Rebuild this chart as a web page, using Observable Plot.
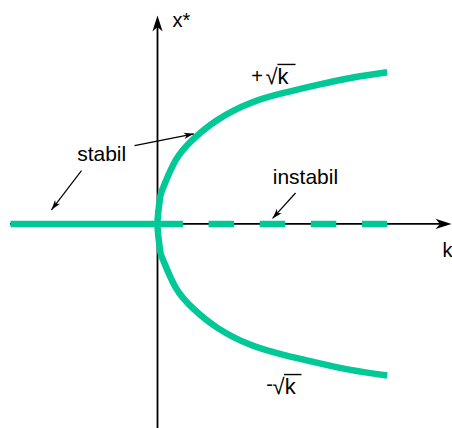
<!DOCTYPE html>
<html>
<head>
<meta charset="utf-8">
<script src="https://cdn.jsdelivr.net/npm/d3@7"></script>
<script src="https://cdn.jsdelivr.net/npm/@observablehq/plot@0.6"></script>
<style>
  body { margin: 0; background: #fff; }
</style>
</head>
<body>
<div id="chart"></div>
<script>
// Pitchfork bifurcation: equilibria x* against the parameter k
const kRange = [-0.64, 1.28];
const xRange = [-1.35, 1.375];

// branch x* = ±√k, upper half (the lower half is its mirror image)
const branchK = [0, 0.006, 0.013, 0.026, 0.08, 0.157, 0.261, 0.405, 0.549, 0.697, 0.84, 1.0];
const branchX = [0, 0.112, 0.19, 0.244, 0.422, 0.561, 0.686, 0.798, 0.864, 0.917, 0.963, 1.0];

// trivial equilibrium x* = 0: stable for k < 0, unstable for k > 0
const stableK = [-0.64, 0];
const unstableK = [0, 1.0];

// pointer arrows (tail -> head)
const pointerFromK = [-0.100, -0.331, 0.601];
const pointerFromX = [0.517, 0.352, 0.204];
const pointerToK = [0.158, -0.4615, 0.501];
const pointerToX = [0.594, 0.093, 0.036];

// plain text labels
const labelText = ["stabil", "instabil"];
const labelK = [-0.243, 0.644];
const labelX = [0.458, 0.309];

// axis titles
const axisText = ["x*", "k"];
const axisK = [0.065, 1.241];
const axisX = [1.34, -0.176];

// branch labels ±√k
const rootSign = ["+", "-"];
const rootSignK = [0.434, 0.488];
const rootSignX = [0.9725, -1.06];
const rootK = [0.470, 0.501];
const rootX = [0.9705, -1.075];
const barK1 = [0.522, 0.5507];
const barK2 = [0.601, 0.6269];
const barX = [1.052, -0.994];

const green = "#00c896";

const xOpts = {domain: kRange, range: [10, 451]};
const yOpts = {domain: xRange, range: [428, 15]};
const xs = Plot.scale({x: xOpts});
const ys = Plot.scale({y: yOpts});

// notched arrowhead, tip at the origin, pointing up
const arrowHead = {
  draw(context, size) {
    const L = Math.sqrt(size / Math.PI);
    context.moveTo(0, 0);
    context.lineTo(0.32 * L, L);
    context.lineTo(0, 0.72 * L);
    context.lineTo(-0.32 * L, L);
    context.closePath();
  }
};

// lower half then upper half, ordered by x*
const branch = [];
for (let i = branchK.length - 1; i > 0; --i) branch.push({k: branchK[i], x: -branchX[i]});
for (let i = 0; i < branchK.length; ++i) branch.push({k: branchK[i], x: branchX[i]});

const pointers = pointerFromK.map((k, i) => {
  const dx = xs.apply(pointerToK[i]) - xs.apply(k);
  const dy = ys.apply(pointerToX[i]) - ys.apply(pointerFromX[i]);
  return {
    k1: k, x1: pointerFromX[i], k2: pointerToK[i], x2: pointerToX[i],
    angle: Math.atan2(dx, -dy) * 180 / Math.PI
  };
});

const axisTips = [
  {k: 0, x: xRange[1], angle: 0},
  {k: kRange[1], x: 0, angle: 90}
];

const labels = labelText.map((t, i) => ({t, k: labelK[i], x: labelX[i]}));
const titles = axisText.map((t, i) => ({t, k: axisK[i], x: axisX[i]}));
const roots = rootSign.map((s, i) => ({
  s, sk: rootSignK[i], sx: rootSignX[i],
  rk: rootK[i], rx: rootX[i],
  b1: barK1[i], b2: barK2[i], bx: barX[i]
}));

const font = "'Liberation Sans', Arial, sans-serif";

const chart = Plot.plot({
  width: 452,
  height: 428,
  x: {...xOpts, axis: null},
  y: {...yOpts, axis: null},
  style: {background: "#fff", fontFamily: font},
  marks: [
    // axes
    Plot.ruleY([0], {x1: kRange[0], x2: kRange[1] - 0.03, stroke: "#000", strokeWidth: 1.8}),
    Plot.ruleX([0], {y1: xRange[0], y2: xRange[1] - 0.05, stroke: "#000", strokeWidth: 1.8}),
    Plot.dot(axisTips, {x: "k", y: "x", rotate: "angle", symbol: arrowHead, r: 16, fill: "#000", stroke: "none"}),

    // equilibria
    Plot.line(stableK, {x: d => d, y: () => 0, stroke: green, strokeWidth: 6.5, strokeLinecap: "butt"}),
    Plot.line(unstableK, {x: d => d, y: () => 0, stroke: green, strokeWidth: 6.5, strokeLinecap: "butt", strokeDasharray: "25.5 25.6"}),
    Plot.line(branch, {x: "k", y: "x", curve: "natural", stroke: green, strokeWidth: 6.5, strokeLinecap: "butt"}),

    // pointers
    Plot.link(pointers, {x1: "k1", y1: "x1", x2: "k2", y2: "x2", stroke: "#000", strokeWidth: 1.2}),
    Plot.dot(pointers, {x: "k2", y: "x2", rotate: "angle", symbol: arrowHead, r: 10, fill: "#000", stroke: "none"}),

    // labels
    Plot.text(labels, {x: "k", y: "x", text: "t", fontSize: 21, fill: "#000", textAnchor: "middle"}),
    Plot.text(titles, {x: "k", y: "x", text: "t", fontSize: 20, fill: "#000", textAnchor: "start"}),
    Plot.text(roots, {x: "sk", y: "sx", text: "s", fontSize: 20, fill: "#000", textAnchor: "middle"}),
    Plot.text(roots, {x: "rk", y: "rx", text: () => "√k", fontSize: 22, fill: "#000", textAnchor: "start"}),
    Plot.link(roots, {x1: "b1", y1: "bx", x2: "b2", y2: "bx", stroke: "#000", strokeWidth: 1.4})
  ]
});

document.getElementById("chart").appendChild(chart);
</script>
</body>
</html>
